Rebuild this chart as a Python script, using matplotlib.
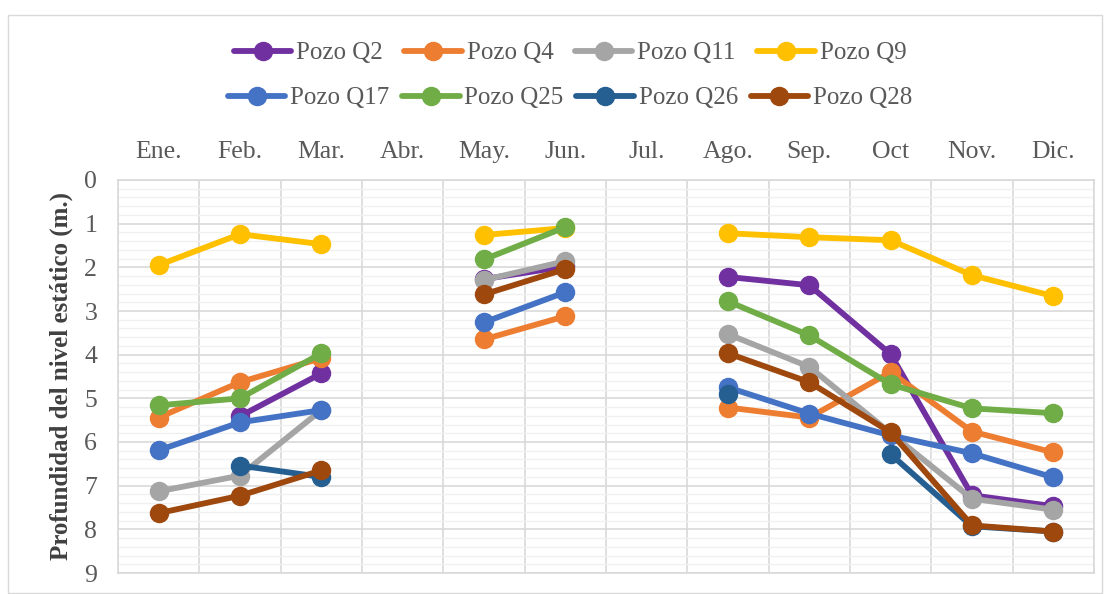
import numpy as np
import matplotlib
matplotlib.use("Agg")
import matplotlib.pyplot as plt
from matplotlib.patches import Rectangle

months = ["Ene.", "Feb.", "Mar.", "Abr.", "May.", "Jun.", "Jul.", "Ago.", "Sep.", "Oct", "Nov.", "Dic."]
nan = np.nan
q2  = [nan, 5.41, 4.43, nan, 2.27, 1.98, nan, 2.22, 2.41, 3.99, 7.22, 7.47]
q4  = [5.44, 4.63, 4.08, nan, 3.65, 3.12, nan, 5.21, 5.44, 4.40, 5.76, 6.24]
q11 = [7.13, 6.77, 5.27, nan, 2.29, 1.86, nan, 3.53, 4.28, 5.80, 7.30, 7.55]
q9  = [1.95, 1.24, 1.47, nan, 1.26, 1.10, nan, 1.22, 1.31, 1.38, 2.18, 2.66]
q17 = [6.19, 5.55, 5.27, nan, 3.26, 2.57, nan, 4.75, 5.35, 5.85, 6.26, 6.81]
q25 = [5.16, 5.00, 3.97, nan, 1.82, 1.08, nan, 2.78, 3.56, 4.68, 5.23, 5.34]
q26 = [nan, 6.54, 6.80, nan, nan, nan, nan, 4.89, nan, 6.28, 7.93, 8.05]
q28 = [7.63, 7.23, 6.65, nan, 2.62, 2.04, nan, 3.97, 4.63, 5.78, 7.91, 8.05]

series = [
    ("Pozo Q2", q2, "#7030A0"),
    ("Pozo Q4", q4, "#ED7D31"),
    ("Pozo Q11", q11, "#A5A5A5"),
    ("Pozo Q9", q9, "#FFC000"),
    ("Pozo Q17", q17, "#4472C4"),
    ("Pozo Q25", q25, "#70AD47"),
    ("Pozo Q26", q26, "#255E91"),
    ("Pozo Q28", q28, "#9E480E"),
]

plt.rcParams['font.family'] = ['Liberation Serif', 'DejaVu Serif']

fig = plt.figure(figsize=(11.10, 5.94), dpi=100)
ax = fig.add_axes([118/1110, 1 - 573/594, (1094-118)/1110, (573-180)/594])

x = np.arange(len(months))
handles = []
for name, vals, col in series:
    h, = ax.plot(x, vals, color=col, lw=4.2, marker='o', markersize=13,
                 solid_capstyle='round', label=name, zorder=3)
    handles.append(h)

ax.set_xlim(-0.5, len(months) - 0.5)
ax.set_ylim(9, 0)
ax.set_yticks(np.arange(0, 10, 1))
ax.set_yticks(np.arange(0, 9.01, 0.2), minor=True)
ax.set_xticks(x)
ax.set_xticklabels(months)
ax.set_xticks(np.arange(-0.5, len(months), 1), minor=True)
ax.xaxis.tick_top()
ax.tick_params(axis='both', which='both', length=0, labelsize=18.5, labelcolor='#595959')
ax.tick_params(axis='x', pad=12)
ax.tick_params(axis='y', pad=15)
ax.grid(True, which='minor', axis='y', color='#F0F0F0', lw=1.0, zorder=0)
ax.grid(True, which='major', axis='y', color='#D9D9D9', lw=1.2, zorder=1)
ax.grid(True, which='minor', axis='x', color='#D9D9D9', lw=1.2, zorder=1)
ax.grid(False, which='major', axis='x')
for s in ax.spines.values():
    s.set_color('#D9D9D9')
    s.set_linewidth(1.2)

ax.set_ylabel("Profundidad del nivel estático (m.)", fontsize=18, fontweight='bold',
              color='#404040', labelpad=8)

leg_kw = dict(ncol=4, frameon=False, fontsize=18, handlelength=2.3, handletextpad=0.2,
              labelcolor='#595959', loc='center')
leg1 = fig.legend(handles=handles[:4], bbox_to_anchor=(570/1110, 1 - 53/594),
                  columnspacing=0.85, **leg_kw)
leg2 = fig.legend(handles=handles[4:], bbox_to_anchor=(570/1110, 1 - 98/594),
                  columnspacing=0.5, **leg_kw)

fig.patches.append(Rectangle((8/1110, 0.002), (1102-8)/1110, 1 - 15/594 - 0.002,
                             transform=fig.transFigure, fill=False, ec='#D9D9D9', lw=1.0))

fig.savefig("out.png", dpi=100)
